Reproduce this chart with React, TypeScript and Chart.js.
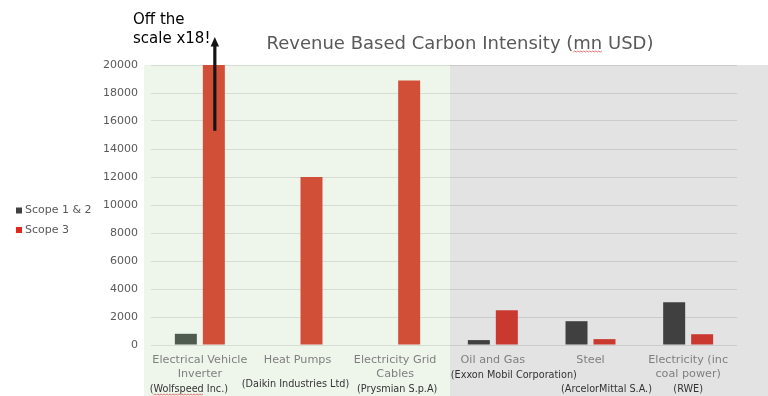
import React, { useEffect, useRef } from "react";
import { Chart, registerables } from "chart.js";

Chart.register(...registerables);

const categories: string[][] = [
  ["Electrical Vehicle", "Inverter"],
  ["Heat Pumps"],
  ["Electricity Grid", "Cables"],
  ["Oil and Gas"],
  ["Steel"],
  ["Electricity (inc", "coal power)"],
];
const companies: string[] = [
  "(Wolfspeed Inc.)",
  "(Daikin Industries Ltd)",
  "(Prysmian S.p.A)",
  "(Exxon Mobil Corporation)",
  "(ArcelorMittal S.A.)",
  "(RWE)",
];
const scope12: number[] = [800, 0, 0, 350, 1700, 3050];
const scope3: number[] = [20000, 12000, 18900, 2480, 420, 770];
const seriesNames: string[] = ["Scope 1 & 2", "Scope 3"];
const yTicks: number[] = [0, 2000, 4000, 6000, 8000, 10000, 12000, 14000, 16000, 18000, 20000];
const titleText = "Revenue Based Carbon Intensity (mn USD)";
const noteLines: string[] = ["Off the", "scale x18!"];

// layout-only offsets for company captions (dx from category centre, y in px)
const companyDx: number[] = [-11, -2, 2, 21, 16, 0];
const companyY: number[] = [389, 384, 389, 375, 389, 389];

const FONT = "'DejaVu Sans', Verdana, sans-serif";

function squiggle(ctx: CanvasRenderingContext2D, x0: number, x1: number, y: number) {
  ctx.save();
  ctx.strokeStyle = "#e05050";
  ctx.lineWidth = 0.8;
  ctx.beginPath();
  let up = true;
  ctx.moveTo(x0, y);
  for (let x = x0 + 1.5; x <= x1; x += 1.5) {
    ctx.lineTo(x, up ? y - 1 : y);
    up = !up;
  }
  ctx.stroke();
  ctx.restore();
}

const decorPlugin = {
  id: "decor",
  beforeDraw(chart: any) {
    const { ctx, chartArea, scales } = chart;
    const xs = scales.x;
    const boundary = (xs.getPixelForValue(2) + xs.getPixelForValue(3)) / 2 + 6;
    ctx.save();
    ctx.fillStyle = "#eef6ec";
    ctx.fillRect(chartArea.left - 7, chartArea.top, boundary - (chartArea.left - 7), chart.height - chartArea.top);
    ctx.fillStyle = "#e3e3e3";
    ctx.fillRect(boundary, chartArea.top, chart.width - boundary, chart.height - chartArea.top);
    ctx.restore();
  },
  afterDraw(chart: any) {
    const { ctx, chartArea, scales } = chart;
    const xs = scales.x;
    const ys = scales.y;
    ctx.save();
    // title
    ctx.font = `18px ${FONT}`;
    ctx.fillStyle = "#595959";
    ctx.textAlign = "center";
    ctx.textBaseline = "alphabetic";
    const tx = 460;
    const ty = 49;
    ctx.fillText(titleText, tx, ty);
    const tw = ctx.measureText(titleText).width;
    const pre = ctx.measureText("Revenue Based Carbon Intensity (").width;
    const mnW = ctx.measureText("mn").width;
    squiggle(ctx, tx - tw / 2 + pre, tx - tw / 2 + pre + mnW, ty + 3);

    // legend
    ctx.font = `11px ${FONT}`;
    ctx.textAlign = "left";
    ctx.textBaseline = "middle";
    const legendColors = ["#404040", "#e0281e"];
    seriesNames.forEach((name, i) => {
      const cy = 210.5 + i * 19.5;
      ctx.fillStyle = legendColors[i];
      ctx.fillRect(16, cy - 3, 6, 6);
      ctx.fillStyle = "#595959";
      ctx.fillText(name, 25, cy);
    });

    // company captions
    ctx.font = `9.7px ${FONT}`;
    ctx.fillStyle = "#333333";
    ctx.textAlign = "center";
    ctx.textBaseline = "middle";
    companies.forEach((c, i) => {
      const cx = xs.getPixelForValue(i) + companyDx[i];
      ctx.fillText(c, cx, companyY[i]);
      if (i === 0) {
        const w = ctx.measureText(c).width;
        const wp = ctx.measureText("(").width;
        const ww = ctx.measureText("Wolfspeed").width;
        squiggle(ctx, cx - w / 2 + wp, cx - w / 2 + wp + ww, companyY[i] + 6);
      }
    });

    // off-scale note and arrow
    ctx.font = `15px ${FONT}`;
    ctx.fillStyle = "#000";
    ctx.textAlign = "left";
    ctx.textBaseline = "alphabetic";
    ctx.fillText(noteLines[0], 133, 24);
    ctx.fillText(noteLines[1], 133, 43);

    const bar = chart.getDatasetMeta(1).data[0];
    const ax = bar.x + 1;
    const aBottom = ys.getPixelForValue(15300);
    const tip = chartArea.top - 28;
    ctx.strokeStyle = "#141414";
    ctx.lineWidth = 3.2;
    ctx.beginPath();
    ctx.moveTo(ax, aBottom);
    ctx.lineTo(ax, tip + 8);
    ctx.stroke();
    ctx.fillStyle = "#141414";
    ctx.beginPath();
    ctx.moveTo(ax, tip);
    ctx.lineTo(ax - 4.2, tip + 9.5);
    ctx.lineTo(ax + 4.2, tip + 9.5);
    ctx.closePath();
    ctx.fill();
    ctx.restore();
  },
};

export default function App() {
  const ref = useRef<HTMLCanvasElement | null>(null);
  useEffect(() => {
    if (!ref.current) return;
    Chart.defaults.font.family = FONT;
    const chart = new Chart(ref.current, {
      type: "bar",
      data: {
        labels: categories,
        datasets: [
          {
            label: seriesNames[0],
            data: scope12,
            backgroundColor: ["#4f5b4f", "#4f5b4f", "#4f5b4f", "#404040", "#404040", "#404040"],
            categoryPercentage: 0.573,
            barPercentage: 0.786,
          },
          {
            label: seriesNames[1],
            data: scope3,
            backgroundColor: ["#d14e37", "#d14e37", "#d14e37", "#c9392f", "#c9392f", "#c9392f"],
            categoryPercentage: 0.573,
            barPercentage: 0.786,
          },
        ],
      },
      options: {
        responsive: false,
        animation: false,
        layout: { padding: { top: 65, right: 31, bottom: 0, left: 0 } },
        plugins: {
          legend: { display: false },
          title: { display: false },
          tooltip: { enabled: false },
        },
        scales: {
          x: {
            grid: { display: false, drawTicks: false },
            border: { display: false },
            ticks: {
              color: "#7f7f7f",
              font: { size: 11.2, lineHeight: 1.25 },
              padding: 8,
              maxRotation: 0,
              autoSkip: false,
            },
            afterFit: (s: any) => {
              s.height = 51;
            },
          },
          y: {
            min: 0,
            max: 20000,
            grid: { color: "rgba(0,0,0,0.1)", drawTicks: false },
            border: { display: false },
            afterBuildTicks: (s: any) => {
              s.ticks = yTicks.map((v) => ({ value: v }));
            },
            ticks: {
              color: "#595959",
              font: { size: 11 },
              padding: 13,
              callback: (v: any) => String(v),
            },
            afterFit: (s: any) => {
              s.width = 151;
            },
          },
        },
      },
      plugins: [decorPlugin],
    });
    return () => chart.destroy();
  }, []);
  return (
    <div style={{ position: "fixed", left: 0, top: 0, width: 768, height: 396, background: "#fff" }}>
      <canvas ref={ref} width={768} height={396} />
    </div>
  );
}
